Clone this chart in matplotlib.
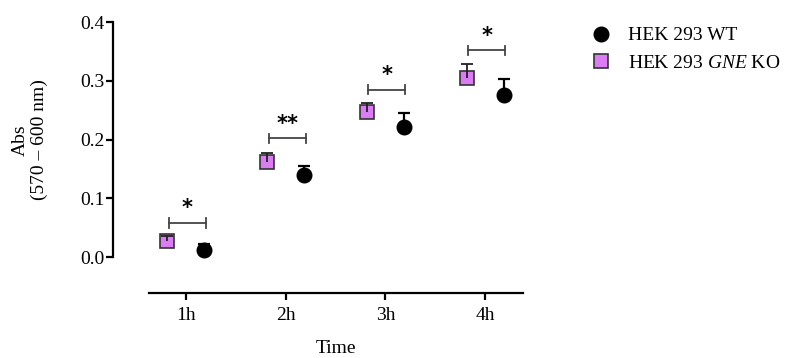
import matplotlib
matplotlib.use("Agg")
import matplotlib.pyplot as plt
import numpy as np

plt.rcParams['font.family'] = ['Liberation Serif', 'DejaVu Serif']
plt.rcParams['mathtext.fontset'] = 'custom'
plt.rcParams['mathtext.rm'] = 'Liberation Serif'
plt.rcParams['mathtext.it'] = 'Liberation Serif:italic'

# data
times = [1, 2, 3, 4]
time_labels = ['1h', '2h', '3h', '4h']
wt_mean = [0.012, 0.139, 0.222, 0.276]
wt_err = [0.011, 0.016, 0.023, 0.027]
ko_mean = [0.028, 0.162, 0.247, 0.304]
ko_err = [0.008, 0.015, 0.015, 0.024]
sig_labels = ['*', '**', '*', '*']
sig_height = [0.058, 0.202, 0.285, 0.352]

ko_color = '#dc7cf4'
off = 0.185
cap = 0.06


def main():
    fig = plt.figure(figsize=(7.86, 3.58), dpi=100)
    ax = fig.add_axes([113 / 786, 1 - 293 / 358, 410 / 786, 271 / 358])

    x = np.array(times, dtype=float)
    ko_top = np.array(ko_mean) + np.array(ko_err)
    wt_top = np.array(wt_mean) + np.array(wt_err)

    # KO squares, upper error bars drawn over the marker
    ax.plot(x - off, ko_mean, ls='none', marker='s', ms=10, mfc=ko_color,
            mec='#333333', mew=1.2, zorder=2, clip_on=False,
            label='HEK 293 $\\mathit{GNE}$ KO')
    ax.vlines(x - off, ko_mean, ko_top, color='#222222', lw=1.3, zorder=3)
    ax.hlines(ko_top, x - off - cap, x - off + cap, color='#222222', lw=1.3, zorder=3)

    # WT circles
    ax.vlines(x + off, wt_mean, wt_top, color='black', lw=1.6, zorder=2)
    ax.hlines(wt_top, x + off - cap, x + off + cap, color='black', lw=1.6, zorder=2)
    ax.plot(x + off, wt_mean, ls='none', marker='o', ms=10.5, mfc='black',
            mec='black', zorder=3, clip_on=False, label='HEK 293 WT')

    # significance brackets
    for t, h, s in zip(times, sig_height, sig_labels):
        x0, x1 = t - 0.17, t + 0.2
        ax.plot([x0, x1], [h, h], color='#444444', lw=1.3, clip_on=False)
        ax.plot([x0, x0], [h - 0.008, h + 0.008], color='#444444', lw=1.3, clip_on=False)
        ax.plot([x1, x1], [h - 0.008, h + 0.008], color='#444444', lw=1.3, clip_on=False)
        ax.text((x0 + x1) / 2, h + 0.008, s, ha='center', va='bottom',
                fontsize=15, fontweight='bold', family='DejaVu Sans')

    ax.set_xlim(0.27, 4.38)
    ax.set_ylim(-0.061, 0.4)
    ax.set_xticks(times)
    ax.set_xticklabels(time_labels)
    ax.set_yticks([0.0, 0.1, 0.2, 0.3, 0.4])
    ax.set_yticklabels(['0.0', '0.1', '0.2', '0.3', '0.4'])

    for side in ['top', 'right']:
        ax.spines[side].set_visible(False)
    ax.spines['left'].set_bounds(0, 0.4)
    ax.spines['bottom'].set_bounds(0.63, 4.38)
    ax.spines['left'].set_linewidth(1.6)
    ax.spines['bottom'].set_linewidth(1.6)
    ax.tick_params(axis='both', width=1.6, length=5, labelsize=14, colors='black')
    ax.tick_params(axis='y', pad=1)
    ax.tick_params(axis='x', pad=5)

    ax.set_xlabel('Time', fontsize=14)
    ax.xaxis.set_label_coords(0.544, -0.175)
    fig.text(30 / 786, 1 - 140 / 358, 'Abs\n(570 – 600 nm)', rotation=90,
             ha='center', va='center', multialignment='center', fontsize=14)

    h, l = ax.get_legend_handles_labels()
    fig.legend(h[::-1], l[::-1], loc='upper left',
               bbox_to_anchor=(576 / 786, 1 - 17 / 358), frameon=False,
               fontsize=14, handletextpad=0.6, labelspacing=0.5,
               handlelength=1.6, borderpad=0)

    plt.savefig('out.png', dpi=100)


if __name__ == "__main__":
    main()
